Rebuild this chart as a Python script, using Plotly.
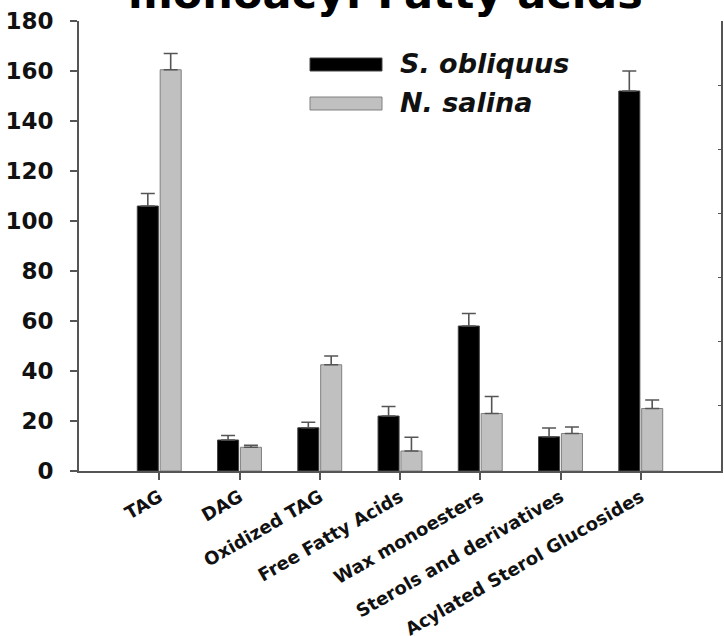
import plotly.graph_objects as go

# ---- data ----
categories = ["TAG", "DAG", "Oxidized TAG", "Free Fatty Acids", "Wax monoesters",
              "Sterols and derivatives", "Acylated Sterol Glucosides"]
series_names = ["S. obliquus", "N. salina"]
s_obliquus = [106, 12.4, 17.3, 22, 58, 13.7, 152]
s_obliquus_err = [5, 1.8, 2.2, 3.8, 5, 3.5, 8]
n_salina = [160.5, 9.5, 42.5, 8, 23, 15, 25]
n_salina_err = [6.5, 0.8, 3.5, 5.5, 6.8, 2.6, 3.4]
y_ticks = [0, 20, 40, 60, 80, 100, 120, 140, 160, 180]
title_text = "monoacy: Fatty acids"

W, H = 724, 636
L, R, T, B = 79, 3, 21, 165
PW, PH = W - L - R, H - T - B

def px_x(px):
    return (px - L) / PW

def px_y(py):
    return (H - B - py) / PH

AX = "#555555"
FONT = "DejaVu Sans"

fig = go.Figure()
fig.add_trace(go.Bar(
    x=categories, y=s_obliquus, name=series_names[0],
    marker=dict(color="#000000", line=dict(color="#444444", width=1)),
    error_y=dict(type="data", array=s_obliquus_err, symmetric=False,
                 arrayminus=[0] * len(categories), color=AX, thickness=1.6, width=7),
    showlegend=False,
))
fig.add_trace(go.Bar(
    x=categories, y=n_salina, name=series_names[1],
    marker=dict(color="#c0c0c0", line=dict(color="#808080", width=1)),
    error_y=dict(type="data", array=n_salina_err, symmetric=False,
                 arrayminus=[0] * len(categories), color=AX, thickness=1.6, width=7),
    showlegend=False,
))
# invisible trace carrying the right-hand axis of the neighbouring panel
fig.add_trace(go.Scatter(x=[categories[0]], y=[None], yaxis="y2", showlegend=False,
                         hoverinfo="skip"))

shapes = [
    dict(type="rect", xref="paper", yref="paper",
         x0=px_x(310), x1=px_x(382), y0=px_y(71), y1=px_y(58),
         fillcolor="#000000", line=dict(color="#444444", width=1)),
    dict(type="rect", xref="paper", yref="paper",
         x0=px_x(310), x1=px_x(382), y0=px_y(110), y1=px_y(97),
         fillcolor="#c0c0c0", line=dict(color="#808080", width=1)),
]
annotations = [
    dict(text="<b><i>%s</i></b>" % series_names[0], xref="paper", yref="paper",
         x=px_x(398), y=px_y(64), xanchor="left", yanchor="middle", showarrow=False,
         font=dict(family=FONT, size=27, color="#111111")),
    dict(text="<b><i>%s</i></b>" % series_names[1], xref="paper", yref="paper",
         x=px_x(398), y=px_y(102), xanchor="left", yanchor="middle", showarrow=False,
         font=dict(family=FONT, size=27, color="#111111")),
    dict(text="<b>%s</b>" % title_text, xref="paper", yref="paper",
         x=px_x(385), y=px_y(-7), xanchor="center", yanchor="middle", showarrow=False,
         font=dict(family=FONT, size=43, color="#000000")),
]

fig.update_layout(
    template="none",
    width=W, height=H,
    margin=dict(l=L, r=R, t=T, b=B, pad=0, autoexpand=False),
    paper_bgcolor="white", plot_bgcolor="white",
    barmode="group", bargap=0.43, bargroupgap=0.08,
    shapes=shapes, annotations=annotations,
    xaxis=dict(
        type="category", range=[-1, 7], automargin=False,
        showline=True, linecolor=AX, linewidth=1.6,
        ticks="outside", ticklen=7, tickwidth=1.6, tickcolor=AX,
        tickangle=-30, showgrid=False, zeroline=False,
        tickfont=dict(family=FONT, size=18, color="#111111", weight="bold"),
    ),
    yaxis=dict(
        range=[0, 180], tickvals=y_ticks, automargin=False,
        showline=True, linecolor=AX, linewidth=1.6,
        ticks="outside", ticklen=7, tickwidth=1.6, tickcolor=AX,
        showgrid=False, zeroline=False, ticklabelstandoff=12,
        tickfont=dict(family=FONT, size=23, color="#111111", weight="bold"),
    ),
    yaxis2=dict(
        overlaying="y", side="right", anchor="x", automargin=False,
        range=[0, 7.03125], tickvals=[1.03125, 2.03125, 3.03125, 4.03125, 5.03125, 6.03125],
        showline=True, linecolor=AX, linewidth=1.6,
        ticks="inside", ticklen=3, tickwidth=1.2, tickcolor=AX,
        showticklabels=False, showgrid=False, zeroline=False,
    ),
)

fig.write_html(
    "out.html",
    config={"displayModeBar": False},
    post_script="document.body.style.margin='0';document.body.style.overflow='hidden';",
)
